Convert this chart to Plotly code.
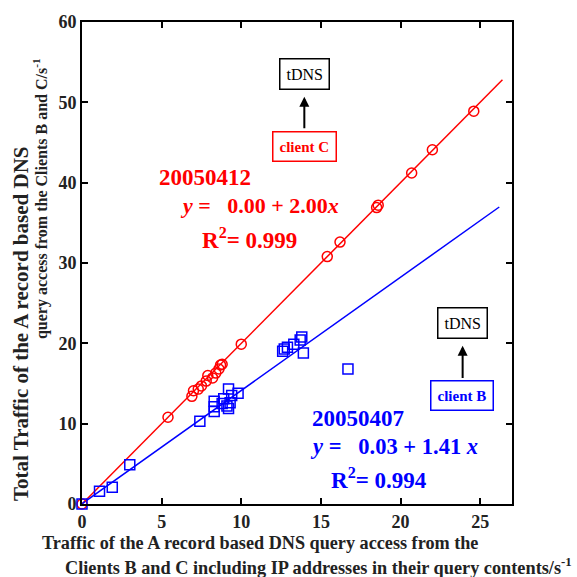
import plotly.graph_objects as go

# Client C (20050412) - red circles
red_x = [0, 5.4, 6.9, 7.0, 7.3, 7.5, 7.8, 7.9, 8.2, 8.4, 8.6, 8.7, 8.8, 10.0,
         15.4, 16.2, 18.5, 18.6, 20.7, 22.0, 24.6]
red_y = [0, 10.8, 13.4, 14.1, 14.3, 14.7, 15.3, 16.0, 15.7, 16.3, 16.8, 17.3, 17.4, 19.9,
         30.8, 32.6, 36.9, 37.2, 41.2, 44.1, 48.9]
red_fit_x = [0, 26.4]
red_fit_y = [0.0, 52.8]

# Client B (20050407) - blue squares
blue_x = [0, 1.1, 1.9, 3.0, 7.4, 8.3, 8.3, 8.3, 8.8, 8.9, 9.1, 9.2, 9.2, 9.3, 9.4, 9.8,
          12.6, 12.7, 12.9, 13.3, 13.7, 13.8, 13.9, 16.7]
blue_y = [0, 1.6, 2.1, 4.9, 10.3, 12.8, 12.1, 11.5, 12.5, 13.1, 12.2, 14.3, 11.9, 12.6, 13.5, 13.8,
          19.0, 19.3, 19.5, 19.9, 20.4, 20.8, 18.8, 16.8]
blue_fit_x = [0, 26.2]
blue_fit_y = [0.03, 36.97]

x_ticks = [0, 5, 10, 15, 20, 25]
y_ticks = [0, 10, 20, 30, 40, 50, 60]

RED = "#ff0000"
BLUE = "#0000ff"
SERIF = "Liberation Serif, Times New Roman, serif"

fig = go.Figure()
fig.add_trace(go.Scatter(x=red_fit_x, y=red_fit_y, mode="lines",
                         line=dict(color=RED, width=1.5), showlegend=False, hoverinfo="skip"))
fig.add_trace(go.Scatter(x=blue_fit_x, y=blue_fit_y, mode="lines",
                         line=dict(color=BLUE, width=1.5), showlegend=False, hoverinfo="skip"))
fig.add_trace(go.Scatter(x=red_x, y=red_y, mode="markers", cliponaxis=False,
                         marker=dict(symbol="circle-open", size=10, color=RED,
                                     line=dict(color=RED, width=1.5)),
                         showlegend=False))
fig.add_trace(go.Scatter(x=blue_x, y=blue_y, mode="markers", cliponaxis=False,
                         marker=dict(symbol="square-open", size=10, color=BLUE,
                                     line=dict(color=BLUE, width=1.5)),
                         showlegend=False))

NB = "\u00a0"
annotations = [
    # red group
    dict(x=14.0, y=53.5, text="tDNS", showarrow=False, font=dict(family=SERIF, size=16, color="black"),
         bordercolor="black", borderwidth=1.5, borderpad=6, bgcolor="white"),
    dict(x=13.96, y=50.7, ax=13.96, ay=46.6, xref="x", yref="y", axref="x", ayref="y",
         text="", showarrow=True, arrowhead=2, arrowsize=1, arrowwidth=2, arrowcolor="black"),
    dict(x=14.0, y=44.5, text="<b>client C</b>", showarrow=False, font=dict(family=SERIF, size=15, color=RED),
         bordercolor=RED, borderwidth=1.5, borderpad=6, bgcolor="white"),
    dict(x=4.7, y=40.6, text="<b>20050412</b>", showarrow=False, xanchor="left",
         font=dict(family=SERIF, size=23, color=RED)),
    dict(x=6.0, y=37.2, text="<b><i>y</i> =" + NB * 3 + "0.00 + 2.00<i>x</i></b>", showarrow=False, xanchor="left",
         font=dict(family=SERIF, size=22, color=RED)),
    dict(x=7.4, y=33.1, text="<b>R<sup>2</sup>= 0.999</b>", showarrow=False, xanchor="left",
         font=dict(family=SERIF, size=23, color=RED)),
    # blue group
    dict(x=23.9, y=22.5, text="tDNS", showarrow=False, font=dict(family=SERIF, size=16, color="black"),
         bordercolor="black", borderwidth=1.5, borderpad=6, bgcolor="white"),
    dict(x=23.9, y=19.7, ax=23.9, ay=15.5, xref="x", yref="y", axref="x", ayref="y",
         text="", showarrow=True, arrowhead=2, arrowsize=1, arrowwidth=2, arrowcolor="black"),
    dict(x=23.87, y=13.5, text="<b>client B</b>", showarrow=False, font=dict(family=SERIF, size=15, color=BLUE),
         bordercolor=BLUE, borderwidth=1.5, borderpad=6, bgcolor="white"),
    dict(x=14.3, y=10.6, text="<b>20050407</b>", showarrow=False, xanchor="left",
         font=dict(family=SERIF, size=23, color=BLUE)),
    dict(x=14.2, y=7.2, text="<b><i>y</i> =" + NB * 3 + "0.03 + 1.41 <i>x</i></b>", showarrow=False, xanchor="left",
         font=dict(family=SERIF, size=22.5, color=BLUE)),
    dict(x=15.5, y=3.2, text="<b>R<sup>2</sup>= 0.994</b>", showarrow=False, xanchor="left",
         font=dict(family=SERIF, size=23, color=BLUE)),
    # axis titles
    dict(xref="paper", yref="paper", x=(21 - 82) / 430, y=(504 - 321) / 490, xanchor="center", yanchor="middle",
         text="<b>Total Traffic of the A record based DNS</b>", textangle=-90, showarrow=False,
         font=dict(family=SERIF, size=21, color="#222")),
    dict(xref="paper", yref="paper", x=(40 - 82) / 430, y=(504 - 194) / 490, xanchor="center", yanchor="middle",
         text="<b>query access from the Clients B and C/s<sup>-1</sup></b>", textangle=-90, showarrow=False,
         font=dict(family=SERIF, size=16, color="#222")),
    dict(xref="paper", yref="paper", x=(40 - 82) / 430, y=(504 - 544) / 490, xanchor="left", yanchor="middle",
         text="<b>Traffic of the A record based DNS query access from the</b>", showarrow=False,
         font=dict(family=SERIF, size=18.2, color="#222")),
    dict(xref="paper", yref="paper", x=(574 - 82) / 430, y=(504 - 568) / 490, xanchor="right", yanchor="middle",
         text="<b>Clients B and C including IP addresses in their query contents/s<sup>-1</sup></b>", showarrow=False,
         font=dict(family=SERIF, size=18.3, color="#222")),
]
for a in annotations:
    a.setdefault("xref", "x")
    a.setdefault("yref", "y")

axis_common = dict(showline=True, linecolor="black", linewidth=2, mirror="ticks",
                   ticks="inside", ticklen=6, tickwidth=1.5, tickcolor="black",
                   showgrid=False, zeroline=False,
                   tickfont=dict(family=SERIF, size=18, color="#222"))

fig.update_layout(
    width=577, height=577,
    margin=dict(l=82, r=65, t=14, b=73),
    plot_bgcolor="white", paper_bgcolor="white",
    xaxis=dict(range=[0, 27], tickvals=x_ticks, ticktext=[f"<b>{v}</b>" for v in x_ticks], **axis_common),
    yaxis=dict(range=[0, 60], tickvals=y_ticks, ticktext=[f"<b>{v}</b>" for v in y_ticks], **axis_common),
    annotations=annotations,
    showlegend=False,
)

fig.write_html("out.html")
